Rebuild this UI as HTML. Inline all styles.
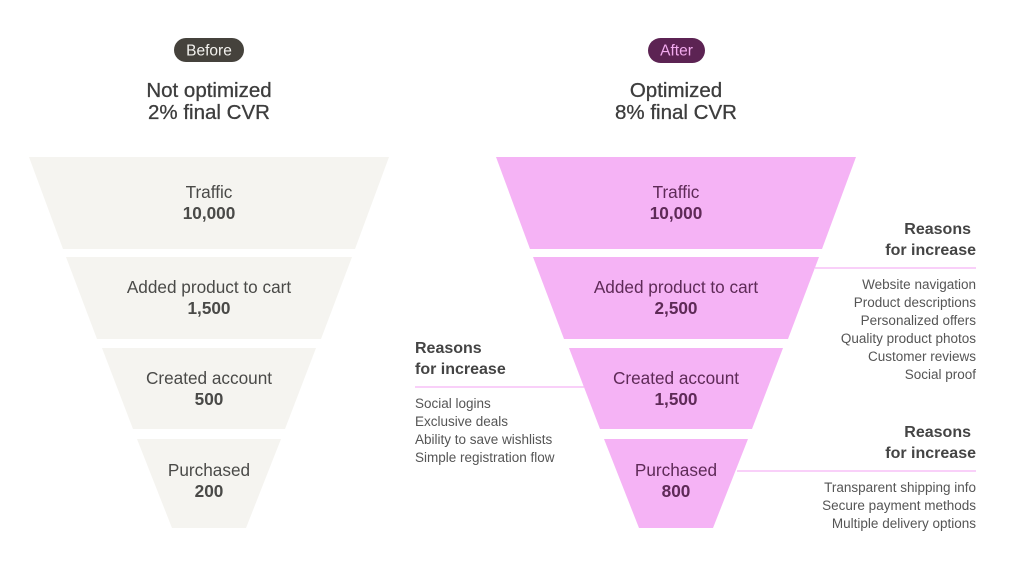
<!DOCTYPE html>
<html>
<head>
<meta charset="utf-8">
<style>
  html,body{margin:0;padding:0;background:#ffffff;}
  svg{display:block;}
  text{font-family:"Liberation Sans", sans-serif;}
</style>
</head>
<body>
<svg width="1024" height="576" viewBox="0 0 1024 576" xmlns="http://www.w3.org/2000/svg">
  <rect width="1024" height="576" fill="#ffffff"/>

  <!-- BEFORE header -->
  <rect x="174" y="38" width="70" height="24" rx="12" fill="#45423c"/>
  <text x="209" y="55.5" font-size="15.5" fill="#f4f3ef" text-anchor="middle">Before</text>
  <text x="209" y="97" font-size="20.5" fill="#3d3d3d" text-anchor="middle" stroke="#3d3d3d" stroke-width="0.3">Not optimized</text>
  <text x="209" y="119" font-size="20.5" fill="#3d3d3d" text-anchor="middle" stroke="#3d3d3d" stroke-width="0.3">2% final CVR</text>

  <!-- AFTER header -->
  <rect x="648" y="38" width="57" height="25" rx="12.5" fill="#5c2353"/>
  <text x="676.5" y="55.5" font-size="15.5" fill="#f2aaee" text-anchor="middle">After</text>
  <text x="676" y="97" font-size="20.5" fill="#3d3d3d" text-anchor="middle" stroke="#3d3d3d" stroke-width="0.3">Optimized</text>
  <text x="676" y="119" font-size="20.5" fill="#3d3d3d" text-anchor="middle" stroke="#3d3d3d" stroke-width="0.3">8% final CVR</text>

  <!-- LEFT FUNNEL (center 209) -->
  <g fill="#f5f4f0">
    <polygon points="29,157 389,157 355,249 63,249"/>
    <polygon points="66,257 352,257 321,339 97,339"/>
    <polygon points="102,348 316,348 285,429 133,429"/>
    <polygon points="137,439 281,439 246,528 172,528"/>
  </g>
  <g fill="#4a4a48" text-anchor="middle">
    <text x="209" y="198" font-size="17.2">Traffic</text>
    <text x="209" y="219" font-size="17.2" font-weight="bold">10,000</text>
    <text x="209" y="293" font-size="17.2">Added product to cart</text>
    <text x="209" y="314" font-size="17.2" font-weight="bold">1,500</text>
    <text x="209" y="384" font-size="17.2">Created account</text>
    <text x="209" y="405" font-size="17.2" font-weight="bold">500</text>
    <text x="209" y="476" font-size="17.2">Purchased</text>
    <text x="209" y="497" font-size="17.2" font-weight="bold">200</text>
  </g>

  <!-- RIGHT FUNNEL (center 676) -->
  <g fill="#f5b3f5">
    <polygon points="496,157 856,157 822,249 530,249"/>
    <polygon points="533,257 819,257 788,339 564,339"/>
    <polygon points="569,348 783,348 752,429 600,429"/>
    <polygon points="604,439 748,439 713,528 639,528"/>
  </g>
  <g fill="#5e2a57" text-anchor="middle">
    <text x="676" y="198" font-size="17.2">Traffic</text>
    <text x="676" y="219" font-size="17.2" font-weight="bold">10,000</text>
    <text x="676" y="293" font-size="17.2">Added product to cart</text>
    <text x="676" y="314" font-size="17.2" font-weight="bold">2,500</text>
    <text x="676" y="384" font-size="17.2">Created account</text>
    <text x="676" y="405" font-size="17.2" font-weight="bold">1,500</text>
    <text x="676" y="476" font-size="17.2">Purchased</text>
    <text x="676" y="497" font-size="17.2" font-weight="bold">800</text>
  </g>

  <!-- connector lines -->
  <g stroke="#f5b3f5" stroke-width="1.2">
    <line x1="815" y1="268" x2="976" y2="268"/>
    <line x1="415" y1="387" x2="584" y2="387"/>
    <line x1="737" y1="471" x2="976" y2="471"/>
  </g>

  <!-- Top-right reasons -->
  <g text-anchor="end">
    <text x="971" y="234" font-size="16" font-weight="bold" fill="#444444">Reasons</text>
    <text x="976" y="255" font-size="16" font-weight="bold" fill="#444444">for increase</text>
    <g font-size="13.5" fill="#555555">
      <text x="976" y="289">Website navigation</text>
      <text x="976" y="307">Product descriptions</text>
      <text x="976" y="325">Personalized offers</text>
      <text x="976" y="343">Quality product photos</text>
      <text x="976" y="361">Customer reviews</text>
      <text x="976" y="379">Social proof</text>
    </g>
  </g>

  <!-- Left reasons -->
  <g text-anchor="start">
    <text x="415" y="353" font-size="16" font-weight="bold" fill="#444444">Reasons</text>
    <text x="415" y="374" font-size="16" font-weight="bold" fill="#444444">for increase</text>
    <g font-size="13.5" fill="#555555">
      <text x="415" y="408">Social logins</text>
      <text x="415" y="426">Exclusive deals</text>
      <text x="415" y="444">Ability to save wishlists</text>
      <text x="415" y="462">Simple registration flow</text>
    </g>
  </g>

  <!-- Bottom-right reasons -->
  <g text-anchor="end">
    <text x="971" y="437" font-size="16" font-weight="bold" fill="#444444">Reasons</text>
    <text x="976" y="458" font-size="16" font-weight="bold" fill="#444444">for increase</text>
    <g font-size="13.5" fill="#555555">
      <text x="976" y="492">Transparent shipping info</text>
      <text x="976" y="510">Secure payment methods</text>
      <text x="976" y="528">Multiple delivery options</text>
    </g>
  </g>
</svg>
</body>
</html>
